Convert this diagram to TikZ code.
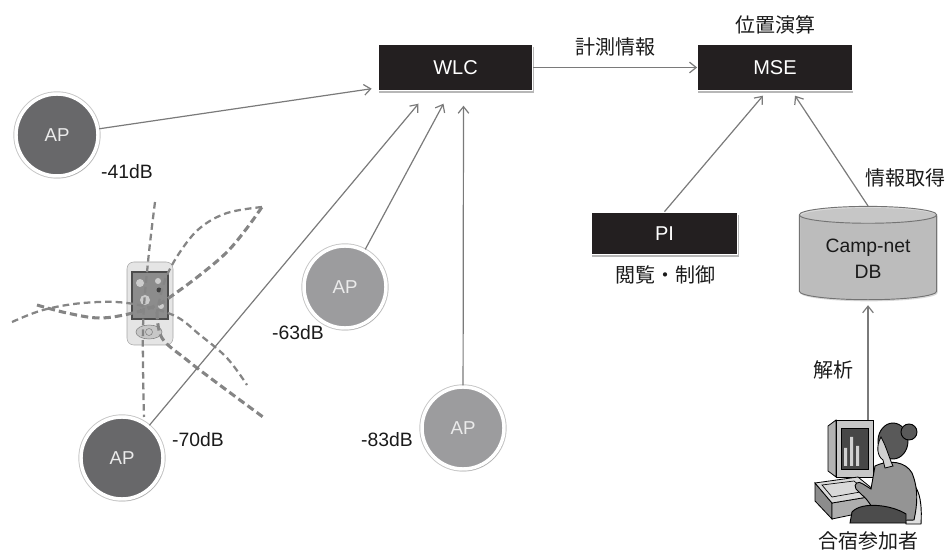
\documentclass[tikz,border=0pt]{standalone}
\usepackage{fontspec}
\setmainfont{Liberation Sans}
\newfontfamily\jpfont{Noto Sans CJK JP}
\usetikzlibrary{positioning,arrows.meta,calc,shapes.geometric,shadows}
\definecolor{boxblack}{HTML}{231F20}
\definecolor{apdark}{HTML}{68686A}
\definecolor{aplight}{HTML}{9C9C9E}
\definecolor{wire}{HTML}{7A7A7A}
\definecolor{ink}{HTML}{1A1A1A}
\definecolor{radio}{HTML}{858585}
\newcommand{\lblsize}{\fontsize{14.5}{17}\selectfont}

\begin{document}
\begin{tikzpicture}[x=0.75pt, y=-0.75pt,
  unit/.style={rectangle, fill=boxblack, draw=white, line width=0.8pt, minimum width=116pt, minimum height=34pt,
    text=white, font=\fontsize{15}{17}\selectfont,
    drop shadow={shadow xshift=0.6pt, shadow yshift=-1.8pt, fill=black!40, opacity=.7}},
  ap/.style={circle, draw=white, line width=2.6pt, minimum size=61.5pt, inner sep=0pt,
    text=white!92!black, font=\fontsize{14}{16}\selectfont,
    preaction={draw=black!22, line width=4pt},
    drop shadow={shadow xshift=0.9pt, shadow yshift=-1.4pt, fill=black!45, opacity=.6}},
  db/.style={cylinder, shape border rotate=90, aspect=0.18, minimum width=103pt, minimum height=70pt,
    draw=black!55, line width=0.7pt, cylinder uses custom fill, cylinder body fill=black!22,
    cylinder end fill=black!14, align=center, text=ink, font=\fontsize{14.5}{19.5}\selectfont},
  link/.style={draw=wire, line width=0.9pt, -{Straight Barb[length=5pt, width=8pt]}},
  lbl/.style={text=ink, font=\lblsize},
  jp/.style={text=ink, font=\jpfont\fontsize{15}{17}\selectfont},
  radio/.style={draw=radio, line width=1.7pt, dash pattern=on 5pt off 3pt, line cap=butt},
  bold radio/.style={radio, line width=2.3pt, dash pattern=on 5.5pt off 3pt}]
\useasboundingbox (0,0) rectangle (947,552);

% handheld terminal
\filldraw[fill=black!10, draw=black!35, rounded corners=5pt] (127,262) rectangle (173,345);
\filldraw[fill=black!45, draw=black!70, line width=0.8pt] (132,272) rectangle (168,319);
\fill[black!20] (140,283) circle (4) (158,281) circle (3) (145,300) circle (5) (161,306) circle (3);
\fill[black!75] (159,290) circle (2.5) (141,311) circle (1.5);
\filldraw[fill=black!22, draw=black!50] (149,332) ellipse [x radius=13, y radius=7];
\draw[black!50] (149,332) circle (3.5);

% signal ranges
\draw[radio] plot[smooth, tension=0.6] coordinates {(155,202) (148,262) (143,328) (144,417)};
\draw[radio] plot[smooth, tension=0.6] coordinates {(262,207) (227,213) (200,228) (180,252) (165,280) (157,312)};
\draw[bold radio] plot[smooth, tension=0.6] coordinates {(157,312) (162,338) (187,360) (217,383) (263,417)};
\draw[bold radio] plot[smooth, tension=0.6] coordinates {(37,305) (67,313) (100,318) (133,313) (157,305) (173,295) (200,275) (227,252) (247,228) (262,207)};
\draw[radio] plot[smooth, tension=0.6] coordinates {(12,322) (43,310) (83,303) (127,303) (173,315) (200,335) (227,358) (247,385)};

% controllers
\node[unit] (wlc) at (455.5,67.5) {WLC};
\node[unit] (mse) at (775,67.5) {MSE};
\node[unit, minimum width=110pt, minimum height=32pt] (pi) at (664.5,233.5) {PI};
\node[jp] (calc) at (775,25) {位置演算};
\node[jp] (view) at (665,275) {閲覧・制御};
\node[db, drop shadow={shadow xshift=0.8pt, shadow yshift=-1.2pt, fill=black!30, opacity=.5}] (db) at (868,259) {Camp-net\\DB};

% access points
\node[ap, fill=apdark] (ap1) at (57,135) {AP};
\node[ap, fill=aplight] (ap2) at (345,287) {AP};
\node[ap, fill=aplight] (ap3) at (463,428) {AP};
\node[ap, fill=apdark] (ap4) at (122,458) {AP};
\node[lbl] at (127,172) {-41dB};
\node[lbl] at (298,333) {-63dB};
\node[lbl] at (387,440) {-83dB};
\node[lbl] at (198,440) {-70dB};

\draw[link] (ap1) -- ([shift={(-6,-2)}]wlc.south west);
\draw[link] (ap4) -- ([shift={(-37,13)}]wlc.south);
\draw[link] (ap2) -- ([shift={(-12,13)}]wlc.south);
\draw[link] (ap3) -- ([shift={(8,15)}]wlc.south);
\draw[link] (wlc) -- (mse) node[midway, above=5pt, jp] {計測情報};
\draw[link] (pi.north) -- ([shift={(-12,5)}]mse.south);
\draw[link] (db.north) -- ([shift={(20,5)}]mse.south);
\node[jp] at (905,178) {情報取得};

% participant at a computer
\coordinate (user) at (868,420);
\filldraw[fill=black!30, draw=black, line width=0.6pt] (828,426) -- (836,420) -- (836,477) -- (828,471) -- cycle;
\filldraw[fill=black!22, draw=black, line width=0.6pt] (836,420) rectangle (873,477);
\filldraw[fill=black!72, draw=black, line width=0.6pt] (841,428) rectangle (868,469);
\fill[black!18] (844,448) rectangle (847,466) (850,437) rectangle (853,466) (856,446) rectangle (859,466);
\filldraw[fill=black!45, draw=black, line width=0.6pt] (815,483) -- (832,503) -- (832,519) -- (815,501) -- cycle;
\filldraw[fill=black!32, draw=black, line width=0.6pt] (832,503) -- (880,495) -- (880,509) -- (832,519) -- cycle;
\filldraw[fill=black!15, draw=black, line width=0.6pt] (815,483) -- (858,477) -- (880,495) -- (832,503) -- cycle;
\draw[black, line width=0.5pt] (822,485) -- (854,481) -- (866,491) -- (832,497) -- cycle;
\filldraw[fill=black!12, draw=black, line width=0.7pt] (900,481) .. controls (915,478) and (923,492) .. (921,524) -- (906,524) -- cycle;
\filldraw[fill=black!42, draw=black, line width=0.7pt] (875,466) .. controls (890,459) and (906,462) .. (912,473)
  .. controls (919,490) and (917,506) .. (914,520) -- (882,521) .. controls (874,512) and (869,500) .. (862,495)
  -- (856,489) .. controls (853,484) and (858,480) .. (863,484) -- (871,489) -- cycle;
\filldraw[fill=black!70, draw=black, line width=0.7pt] (852,512) .. controls (862,501) and (892,505) .. (906,514) -- (906,523) -- (850,523) -- cycle;
\filldraw[fill=black!65, draw=black, line width=0.7pt] (893,441) ellipse [x radius=15, y radius=18];
\filldraw[fill=black!65, draw=black, line width=0.7pt] (909,432) circle (8);
\filldraw[fill=black!18, draw=black, line width=0.6pt] (881,437) .. controls (876,446) and (877,456) .. (883,460)
  -- (885,468) -- (893,466) .. controls (889,458) and (887,448) .. (881,437) -- cycle;
\node[jp] (member) at (868,541) {合宿参加者};
\draw[link] (user) -- ([shift={(0,5)}]db.south);
\node[jp] at (833,370) {解析};
\end{tikzpicture}
\end{document}
